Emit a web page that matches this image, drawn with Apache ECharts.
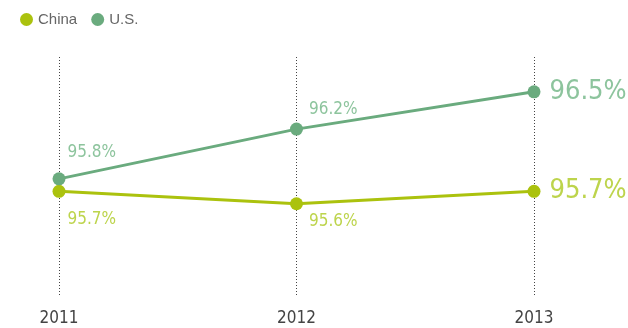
<!DOCTYPE html>
<html><head><meta charset="utf-8">
<script src="https://cdn.jsdelivr.net/npm/echarts@6/dist/echarts.min.js"></script>
<style>html,body{margin:0;padding:0;background:#fff}#c{width:628px;height:328px}</style>
</head><body><div id="c"></div>
<script>
var years = ['2011', '2012', '2013'];
var china = [95.7, 95.6, 95.7];
var us = [95.8, 96.2, 96.5];

var NARROW = '"DejaVu Sans Condensed","Liberation Sans Narrow",sans-serif';
var chinaColor = '#abc20e', chinaLabel = '#bdd44c';
var usColor = '#6aab7e', usLabel = '#8dc49d';

function pts(vals, lblColor, small, big) {
  return vals.map(function (v, i) {
    var last = i === vals.length - 1;
    var o = last ? big : small[i];
    return {
      value: v,
      label: {
        show: true, position: 'right', distance: o.d, offset: o.off,
        formatter: function (p) { return p.value.toFixed(1) + '%'; },
        color: lblColor, fontFamily: NARROW, fontSize: last ? 27 : 17
      }
    };
  });
}

var chart = echarts.init(document.getElementById('c'));
chart.setOption({
  animation: false,
  legend: {
    left: 15, top: 7, icon: 'circle', itemWidth: 13, itemHeight: 13, itemGap: 14,
    textStyle: { color: '#666', fontSize: 15, fontFamily: '"Liberation Sans",Arial,sans-serif' },
    data: ['China', 'U.S.']
  },
  grid: { left: 59, right: 94, top: 57, bottom: 31 },
  xAxis: {
    type: 'category', data: years, boundaryGap: false,
    axisLine: { show: false }, axisTick: { show: false },
    axisLabel: { color: '#444', fontSize: 17, fontFamily: NARROW, margin: 13 },
    splitLine: { show: true, lineStyle: { type: [1, 2], color: '#444', width: 1 } }
  },
  yAxis: {
    type: 'value', min: 94.85, max: 96.78, show: false,
    splitLine: { show: false }
  },
  series: [
    {
      name: 'China', type: 'line', data: pts(china, chinaLabel,
        [{ d: 2, off: [0, 28] }, { d: 6, off: [0, 18] }], { d: 9, off: [0, 0] }),
      symbol: 'circle', symbolSize: 13, itemStyle: { color: chinaColor },
      lineStyle: { color: chinaColor, width: 3 }
    },
    {
      name: 'U.S.', type: 'line', data: pts(us, usLabel,
        [{ d: 2, off: [0, -26] }, { d: 6, off: [0, -20] }], { d: 9, off: [0, 0] }),
      symbol: 'circle', symbolSize: 13, itemStyle: { color: usColor },
      lineStyle: { color: usColor, width: 3 }
    }
  ]
});
</script></body></html>
